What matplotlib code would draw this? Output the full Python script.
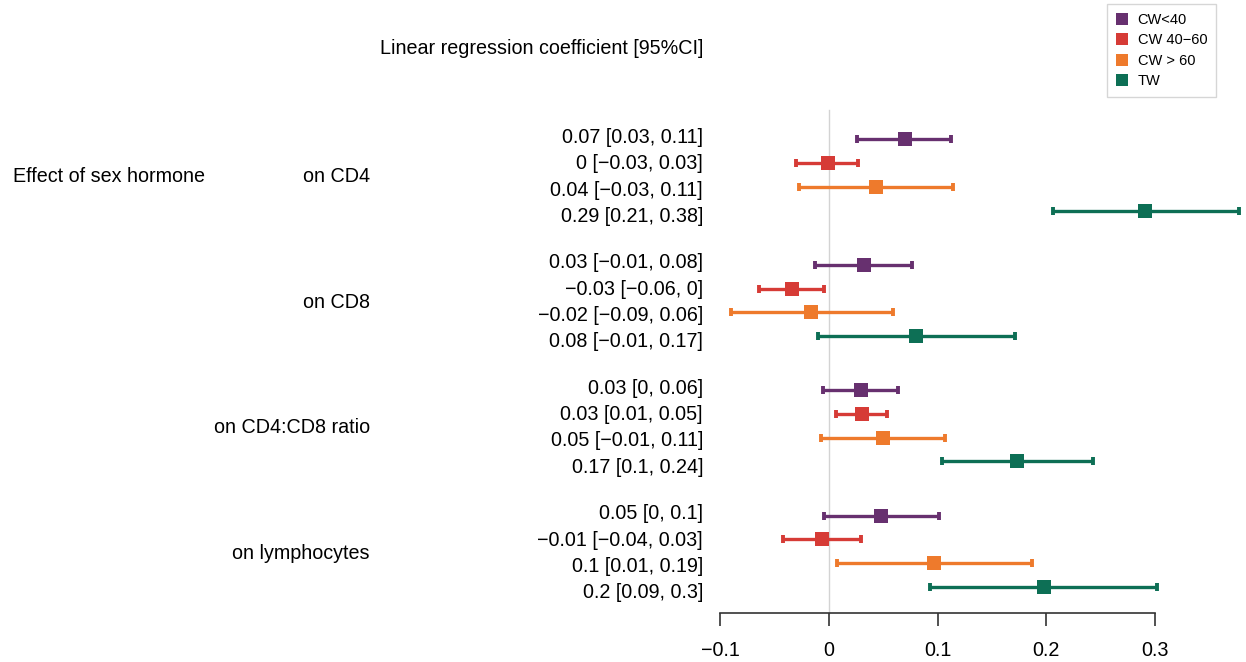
import matplotlib
matplotlib.use("Agg")
import matplotlib.pyplot as plt
from matplotlib.lines import Line2D
from matplotlib.transforms import blended_transform_factory

plt.rcParams['font.family'] = ['Liberation Sans', 'DejaVu Sans']

# ---------------- data ----------------
groups = ["on CD4", "on CD8", "on CD4:CD8 ratio", "on lymphocytes"]
series = ["CW<40", "CW 40\u221260", "CW > 60", "TW"]
colors = ["#67306F", "#D63B36", "#EE7A2C", "#0D6F55"]

est_cw40 = [0.070, 0.032, 0.030, 0.048]
lo_cw40 = [0.026, -0.013, -0.005, -0.004]
hi_cw40 = [0.112, 0.077, 0.064, 0.101]

est_cw4060 = [-0.001, -0.034, 0.031, -0.006]
lo_cw4060 = [-0.030, -0.064, 0.007, -0.042]
hi_cw4060 = [0.027, -0.004, 0.054, 0.030]

est_cw60 = [0.043, -0.016, 0.050, 0.097]
lo_cw60 = [-0.027, -0.090, -0.007, 0.008]
hi_cw60 = [0.114, 0.059, 0.107, 0.187]

est_tw = [0.291, 0.080, 0.173, 0.198]
lo_tw = [0.206, -0.010, 0.104, 0.093]
hi_tw = [0.377, 0.171, 0.243, 0.302]

labels_cd4 = ["0.07 [0.03, 0.11]", "0 [\u22120.03, 0.03]", "0.04 [\u22120.03, 0.11]", "0.29 [0.21, 0.38]"]
labels_cd8 = ["0.03 [\u22120.01, 0.08]", "\u22120.03 [\u22120.06, 0]", "\u22120.02 [\u22120.09, 0.06]", "0.08 [\u22120.01, 0.17]"]
labels_ratio = ["0.03 [0, 0.06]", "0.03 [0.01, 0.05]", "0.05 [\u22120.01, 0.11]", "0.17 [0.1, 0.24]"]
labels_lymph = ["0.05 [0, 0.1]", "\u22120.01 [\u22120.04, 0.03]", "0.1 [0.01, 0.19]", "0.2 [0.09, 0.3]"]

xticks = [-0.1, 0, 0.1, 0.2, 0.3]
xtick_labels = ["\u22120.1", "0", "0.1", "0.2", "0.3"]
title = "Linear regression coefficient [95%CI]"
outer_label = "Effect of sex hormone"

ests = [est_cw40, est_cw4060, est_cw60, est_tw]
los = [lo_cw40, lo_cw4060, lo_cw60, lo_tw]
his = [hi_cw40, hi_cw4060, hi_cw60, hi_tw]
row_labels = [labels_cd4, labels_cd8, labels_ratio, labels_lymph]

# ---------------- layout ----------------
W, H = 1246, 662
fig = plt.figure(figsize=(W / 100, H / 100), dpi=100)
ax_left_px, ax_right_px = 720, 1242
ax = fig.add_axes([ax_left_px / W, 0, (ax_right_px - ax_left_px) / W, 1])
ax.set_xlim(-0.1, 0.38)
ax.set_ylim(H, 0)   # y in pixel-like units, top = 0

first_center = 175.0
group_step = 125.4
marker_step = 23.7
text_step = 26.3
text_shift = 2.0
offsets = [-1.5, -0.5, 0.5, 1.5]
axis_y = 613

# zero reference line
ax.plot([0, 0], [110, axis_y], color="#D3D3D3", lw=1.0, zorder=1)

for gi in range(len(groups)):
    c = first_center + gi * group_step
    for si in range(len(series)):
        y = c + offsets[si] * marker_step
        e = ests[si][gi]
        lo, hi = los[si][gi], his[si][gi]
        ax.plot([lo, hi], [y, y], color=colors[si], lw=2.4,
                solid_capstyle="butt", zorder=2, clip_on=False)
        ax.plot([lo, hi], [y, y], ls="none", marker="|", ms=5.5,
                mew=2.8, color=colors[si], zorder=2, clip_on=False)
        ax.plot([e], [y], ls="none", marker="s", ms=9.4, mew=0,
                color=colors[si], zorder=3, clip_on=False)

# axis styling
for s in ["top", "right", "left"]:
    ax.spines[s].set_visible(False)
ax.spines["bottom"].set_position(("data", axis_y))
ax.spines["bottom"].set_bounds(-0.1, 0.3)
ax.spines["bottom"].set_color("#333333")
ax.spines["bottom"].set_linewidth(1.2)
ax.set_yticks([])
ax.set_xticks(xticks)
ax.set_xticklabels(xtick_labels, fontsize=14.2)
ax.tick_params(axis="x", direction="out", length=9, width=1.2,
               color="#333333", pad=11)
ax.patch.set_alpha(0)

# texts outside axes
tr = blended_transform_factory(fig.transFigure, ax.transData)
fs = 14.2
for gi, g in enumerate(groups):
    c = first_center + gi * group_step
    ax.text(370 / W, c + text_shift, g, transform=tr, ha="right", va="center", fontsize=fs)
    for si in range(len(series)):
        ax.text(703 / W, c + offsets[si] * text_step + text_shift, row_labels[gi][si],
                transform=tr, ha="right", va="center", fontsize=fs)
ax.text(13 / W, first_center + text_shift, outer_label, transform=tr, ha="left",
        va="center", fontsize=fs)
ax.text(703 / W, 49, title, transform=tr, ha="right", va="center", fontsize=fs)

# legend
handles = [Line2D([], [], ls="none", marker="s", ms=8.3, mew=0, color=col)
           for col in colors]
leg = fig.legend(handles, series, loc="upper right",
                 bbox_to_anchor=(1216 / W, 1 - 4 / H), borderaxespad=0,
                 fontsize=10.5, frameon=True, fancybox=False,
                 handlelength=0.9, handletextpad=0.6, labelspacing=0.45,
                 borderpad=0.6)
leg.get_frame().set_edgecolor("#CCCCCC")
leg.get_frame().set_linewidth(1.0)

fig.savefig("out.png", dpi=100)
